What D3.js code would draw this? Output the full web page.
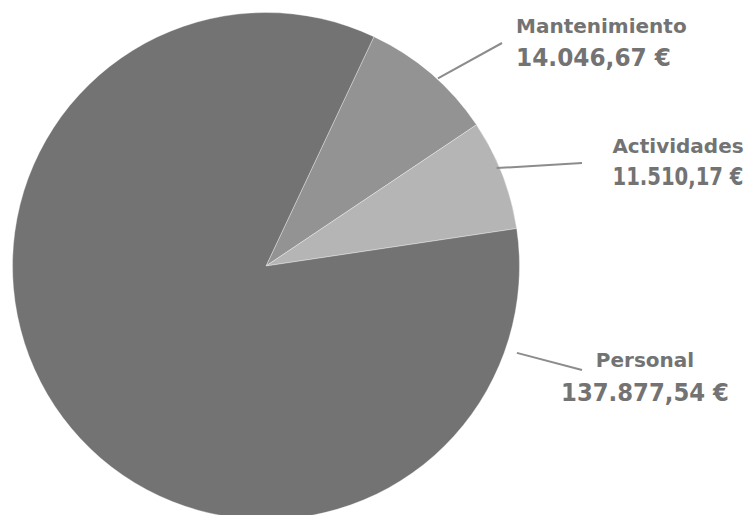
<!DOCTYPE html>
<html>
<head>
<meta charset="utf-8">
<script src="https://cdn.jsdelivr.net/npm/d3@7"></script>
<style>
  html, body { margin: 0; padding: 0; background: #fff; }
  svg { display: block; }
</style>
</head>
<body>
<svg id="chart" width="752" height="515"></svg>
<script>
// ---- data ----
const categories = ["Mantenimiento", "Actividades", "Personal"];
const values = [14046.67, 11510.17, 137877.54];
const valueLabels = ["14.046,67 €", "11.510,17 €", "137.877,54 €"];
const colors = ["#939393", "#b5b5b5", "#737373"];

// ---- layout ----
const W = 752, H = 515;
const cx = 266, cy = 266, R = 253.5;
const startDeg = 25.2;
// label layout: anchor, x, label baseline, value baseline, value width, leader angle (deg), leader start radius offset, leader end
const labelLayout = [
  { anchor: "start",  x: 516, y1: 33,  y2: 66,  w: 155, ang: 42.5,  dr: 1,  ex: 502, ey: 43 },
  { anchor: "middle", x: 678, y1: 153, y2: 185, w: 131, ang: 67.0,  dr: -3, ex: 582, ey: 163 },
  { anchor: "middle", x: 645, y1: 367, y2: 401, w: 168, ang: 109.1, dr: 12, ex: 582, ey: 370 }
];

const svg = d3.select("#chart");
const g = svg.append("g").attr("transform", `translate(${cx},${cy})`);

const data = categories.map((c, i) => ({ name: c, value: values[i], label: valueLabels[i], color: colors[i] }));
const start = startDeg * Math.PI / 180;
const pie = d3.pie().sort(null).value(d => d.value).startAngle(start).endAngle(start + 2 * Math.PI);
const arc = d3.arc().innerRadius(0).outerRadius(R);

g.selectAll("path.slice")
  .data(pie(data))
  .join("path")
  .attr("class", "slice")
  .attr("d", arc)
  .attr("fill", d => d.data.color)
  .attr("stroke", "rgba(255,255,255,0.35)")
  .attr("stroke-width", 1);

// leader lines
const leaders = svg.append("g");
data.forEach((d, i) => {
  const L = labelLayout[i];
  const a = L.ang * Math.PI / 180;
  const rr = R + L.dr;
  const sx = cx + rr * Math.sin(a);
  const sy = cy - rr * Math.cos(a);
  leaders.append("line")
    .attr("x1", sx).attr("y1", sy)
    .attr("x2", L.ex).attr("y2", L.ey)
    .attr("stroke", "#8c8c8c")
    .attr("stroke-width", 2);
});

// labels
const labels = svg.append("g")
  .attr("font-family", "'DejaVu Sans', sans-serif")
  .attr("font-weight", "bold")
  .attr("fill", "#737373");
data.forEach((d, i) => {
  const L = labelLayout[i];
  labels.append("text")
    .attr("x", L.x).attr("y", L.y1)
    .attr("text-anchor", L.anchor)
    .attr("font-size", 20)
    .text(d.name);
  const vg = labels.append("g").attr("transform", `translate(${L.x},${L.y2})`);
  const t = vg.append("text")
    .attr("x", 0).attr("y", 0)
    .attr("text-anchor", L.anchor)
    .attr("font-size", 24)
    .text(d.label);
  const natural = t.node().getComputedTextLength();
  const s = Math.min(1, L.w / natural);
  vg.attr("transform", `translate(${L.x},${L.y2}) scale(${s},1)`);
});
</script>
</body>
</html>
